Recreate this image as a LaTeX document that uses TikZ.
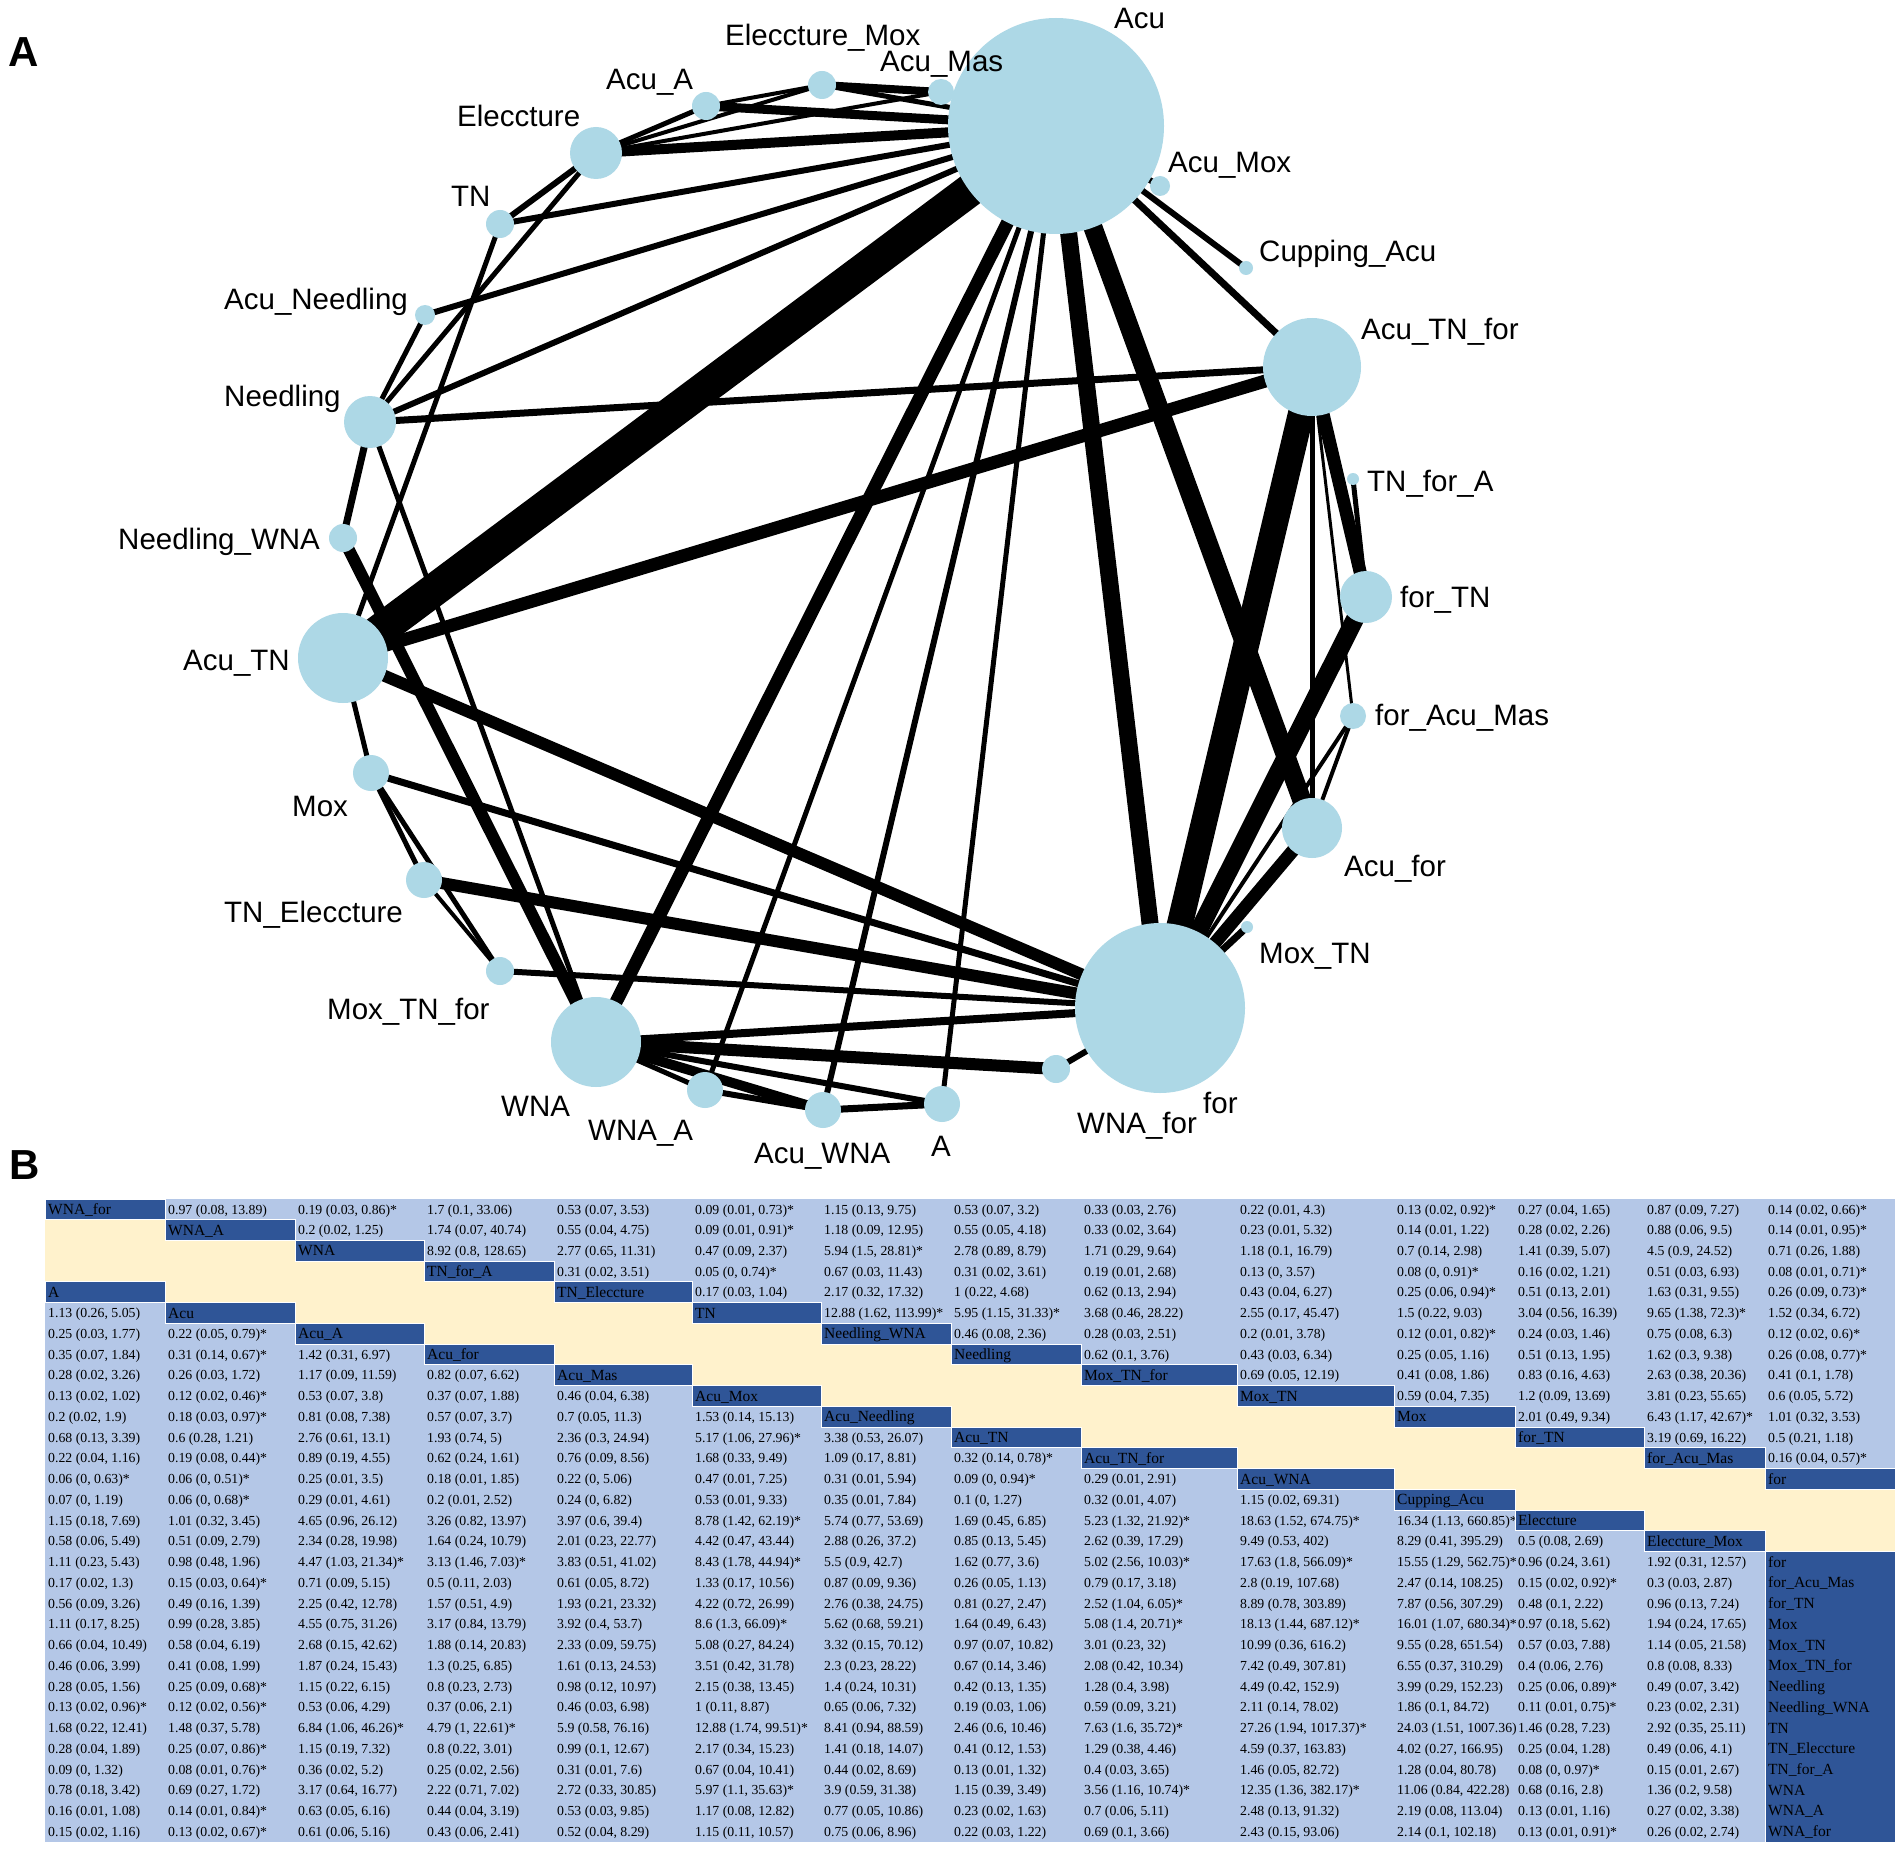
\documentclass[tikz,border=0pt]{standalone}
\usepackage{fontspec}
\setmainfont{Liberation Serif}
\newfontfamily\gsans{Liberation Sans}
\usetikzlibrary{backgrounds}
\definecolor{nodeblue}{HTML}{ADD8E6}
\definecolor{cellblue}{HTML}{B4C7E7}
\definecolor{cellcream}{HTML}{FFF2CC}
\definecolor{celldark}{HTML}{2F5597}
\tikzset{
 gnode/.style={circle, fill=nodeblue, draw=none, inner sep=0pt},
 glabel/.style={anchor=base west, inner sep=0pt, font=\gsans\fontsize{29.5}{30}\selectfont},
 edge/.style={draw=black, line cap=butt},
 val/.style={anchor=base west, inner sep=0pt, font=\fontsize{13.8}{14}\selectfont},
 lab/.style={anchor=base west, inner sep=0pt, text=black, font=\fontsize{15.5}{16}\selectfont},
 panel/.style={anchor=base west, inner sep=0pt, font=\gsans\bfseries\fontsize{42}{42}\selectfont}
}
\newcommand\tcx[1]{\ifcase#1\or45\or165\or295\or424\or554\or692\or821\or951\or1081\or1237\or1394\or1515\or1644\or1765\or1895\fi}
\newcommand\cellbox[2]{\edef\tbxl{\tcx{#1}}\edef\tbxr{\tcx{\numexpr#1+1\relax}}\pgfmathsetmacro\tbyt{1199+(#2-1)*20.74}\pgfmathsetmacro\tbyb{\tbyt+20.74}}
\newcommand\vc[3]{\cellbox{#1}{#2}\begin{scope}\clip (\tbxl,\tbyt) rectangle (\tbxr,\tbyb);\node[val] at (\tbxl+3,\tbyt+15) {#3};\end{scope}}
\newcommand\dc[3]{\cellbox{#1}{#2}\fill[celldark] (\tbxl,\tbyt) rectangle (\tbxr,\tbyb);\draw[white,line width=1pt] (\tbxl,\tbyt) rectangle (\tbxr,\tbyb);\node[lab] at (\tbxl+3,\tbyt+15.5) {#3};}
\newcommand\dcn[3]{\cellbox{#1}{#2}\node[lab] at (\tbxl+3,\tbyt+15.5) {#3};}
\newcommand\cream[3]{\cellbox{#1}{#3}\edef\tbxr{\tcx{\numexpr#2+1\relax}}\fill[cellcream] (\tbxl,\tbyt) rectangle (\tbxr,\tbyb);}
\newcount\tbcol
\def\rvstop{STOP}
\newcommand\rowvals[3]{\def\tbrow{#1}\global\tbcol=#2\relax\rvloop#3|STOP|}
\def\rvloop#1|{\def\rvtmp{#1}\ifx\rvtmp\rvstop\else\vc{\the\tbcol}{\tbrow}{#1}\global\advance\tbcol by1\relax\expandafter\rvloop\fi}
\begin{document}
\begin{tikzpicture}[x=1pt,y=-1pt]
\useasboundingbox (0,0) rectangle (1902,1851);
% ---------- graph nodes ----------
\node[gnode,minimum size=26pt] (AcuMas) at (941,92) {};
\node[gnode,minimum size=216pt] (Acu) at (1056,126) {};
\node[gnode,minimum size=28pt] (EleMox) at (822,85) {};
\node[gnode,minimum size=28pt] (AcuA) at (706,106) {};
\node[gnode,minimum size=52pt] (Ele) at (596,153) {};
\node[gnode,minimum size=28pt] (TN) at (500,224) {};
\node[gnode,minimum size=20pt] (AcuNeed) at (425,315) {};
\node[gnode,minimum size=52pt] (Need) at (370,422) {};
\node[gnode,minimum size=28pt] (NeedWNA) at (343,538) {};
\node[gnode,minimum size=90pt] (AcuTN) at (343,658) {};
\node[gnode,minimum size=36pt] (Mox) at (371,773) {};
\node[gnode,minimum size=36pt] (TNEle) at (424,880) {};
\node[gnode,minimum size=28pt] (MoxTNfor) at (500,971) {};
\node[gnode,minimum size=90pt] (WNA) at (596,1042) {};
\node[gnode,minimum size=36pt] (WNAA) at (705,1090) {};
\node[gnode,minimum size=36pt] (AcuWNA) at (823,1110) {};
\node[gnode,minimum size=36pt] (A) at (942,1104) {};
\node[gnode,minimum size=28pt] (WNAfor) at (1056,1069) {};
\node[gnode,minimum size=170pt] (for) at (1160,1008) {};
\node[gnode,minimum size=12pt] (MoxTN) at (1247,927) {};
\node[gnode,minimum size=60pt] (Acufor) at (1312,828) {};
\node[gnode,minimum size=26pt] (forAcuMas) at (1353,716) {};
\node[gnode,minimum size=52pt] (forTN) at (1366,597) {};
\node[gnode,minimum size=12pt] (TNforA) at (1353,479) {};
\node[gnode,minimum size=98pt] (AcuTNfor) at (1312,367) {};
\node[gnode,minimum size=14pt] (Cupping) at (1246,268) {};
\node[gnode,minimum size=20pt] (AcuMox) at (1160,186) {};
% ---------- edges ----------
\begin{scope}[on background layer]
\fill[white] (0,0) rectangle (1902,1851);
\draw[edge,line width=33pt] (Acu.center) -- (AcuTN.center);
\draw[edge,line width=26pt] (AcuTNfor.center) -- (for.center);
\draw[edge,line width=19pt] (Acu.center) -- (Acufor.center);
\draw[edge,line width=17pt] (Acu.center) -- (for.center);
\draw[edge,line width=18pt] (forTN.center) -- (for.center);
\draw[edge,line width=13pt] (Acu.center) -- (WNA.center);
\draw[edge,line width=13pt] (AcuTN.center) -- (AcuTNfor.center);
\draw[edge,line width=12pt] (AcuTN.center) -- (for.center);
\draw[edge,line width=12pt] (NeedWNA.center) -- (WNA.center);
\draw[edge,line width=12pt] (TNEle.center) -- (for.center);
\draw[edge,line width=13pt] (Acufor.center) -- (for.center);
\draw[edge,line width=13pt] (AcuTNfor.center) -- (forTN.center);
\draw[edge,line width=12pt] (WNA.center) -- (WNAfor.center);
\draw[edge,line width=10pt] (WNA.center) -- (AcuWNA.center);
\draw[edge,line width=8pt] (WNA.center) -- (for.center);
\draw[edge,line width=10pt] (Acu.center) -- (Ele.center);
\draw[edge,line width=9pt] (Acu.center) -- (AcuA.center);
\draw[edge,line width=8pt] (EleMox.center) -- (AcuMas.center);
\draw[edge,line width=5pt] (Acu.center) -- (EleMox.center);
\draw[edge,line width=5pt] (Acu.center) -- (AcuMas.center);
\draw[edge,line width=4pt] (EleMox.center) -- (AcuA.center);
\draw[edge,line width=4pt] (Ele.center) -- (EleMox.center);
\draw[edge,line width=5pt] (Ele.center) -- (AcuA.center);
\draw[edge,line width=4pt] (Ele.center) -- (AcuMas.center);
\draw[edge,line width=6pt] (Ele.center) -- (TN.center);
\draw[edge,line width=5pt] (Ele.center) -- (Need.center);
\draw[edge,line width=6pt] (Acu.center) -- (TN.center);
\draw[edge,line width=6pt] (Acu.center) -- (AcuNeed.center);
\draw[edge,line width=6pt] (Acu.center) -- (Need.center);
\draw[edge,line width=5pt] (TN.center) -- (AcuTN.center);
\draw[edge,line width=5pt] (AcuNeed.center) -- (Need.center);
\draw[edge,line width=7pt] (Need.center) -- (NeedWNA.center);
\draw[edge,line width=7pt] (Need.center) -- (AcuTNfor.center);
\draw[edge,line width=5pt] (Need.center) -- (WNA.center);
\draw[edge,line width=5pt] (AcuTN.center) -- (Mox.center);
\draw[edge,line width=5pt] (Mox.center) -- (TNEle.center);
\draw[edge,line width=5pt] (Mox.center) -- (MoxTNfor.center);
\draw[edge,line width=4pt] (TNEle.center) -- (MoxTNfor.center);
\draw[edge,line width=7pt] (Mox.center) -- (for.center);
\draw[edge,line width=6pt] (MoxTNfor.center) -- (for.center);
\draw[edge,line width=5pt] (WNA.center) -- (WNAA.center);
\draw[edge,line width=6pt] (WNA.center) -- (A.center);
\draw[edge,line width=6pt] (WNAA.center) -- (AcuWNA.center);
\draw[edge,line width=5pt] (WNAA.center) -- (Acu.center);
\draw[edge,line width=6pt] (AcuWNA.center) -- (Acu.center);
\draw[edge,line width=7pt] (AcuWNA.center) -- (A.center);
\draw[edge,line width=5pt] (A.center) -- (Acu.center);
\draw[edge,line width=6pt] (WNAfor.center) -- (for.center);
\draw[edge,line width=7pt] (MoxTN.center) -- (for.center);
\draw[edge,line width=4pt] (forAcuMas.center) -- (for.center);
\draw[edge,line width=4pt] (forAcuMas.center) -- (Acufor.center);
\draw[edge,line width=3pt] (AcuTNfor.center) -- (forAcuMas.center);
\draw[edge,line width=5pt] (AcuTNfor.center) -- (Acufor.center);
\draw[edge,line width=5pt] (TNforA.center) -- (forTN.center);
\draw[edge,line width=7pt] (Acu.center) -- (AcuTNfor.center);
\draw[edge,line width=6pt] (Acu.center) -- (Cupping.center);
\draw[edge,line width=6pt] (Acu.center) -- (AcuMox.center);
\end{scope}
% ---------- graph labels ----------
\node[glabel] (lAcu) at (1114,29) {Acu};
\node[glabel] (lEleMox) at (725,46) {Eleccture\_Mox};
\node[glabel] (lAcuMas) at (880,72) {Acu\_Mas};
\node[glabel] (lAcuA) at (606,90) {Acu\_A};
\node[glabel] (lEle) at (457,127) {Eleccture};
\node[glabel] (lTN) at (451,207) {TN};
\node[glabel] (lAcuNeed) at (224,309) {Acu\_Needling};
\node[glabel] (lNeed) at (224,406) {Needling};
\node[glabel] (lNeedWNA) at (118,549) {Needling\_WNA};
\node[glabel] (lAcuTN) at (183,670) {Acu\_TN};
\node[glabel] (lMox) at (292,816) {Mox};
\node[glabel] (lTNEle) at (224,922) {TN\_Eleccture};
\node[glabel] (lMoxTNfor) at (327,1019) {Mox\_TN\_for};
\node[glabel] (lWNA) at (501,1116) {WNA};
\node[glabel] (lWNAA) at (588,1140) {WNA\_A};
\node[glabel] (lAcuWNA) at (754,1163) {Acu\_WNA};
\node[glabel] (lA) at (931,1156) {A};
\node[glabel] (lWNAfor) at (1077,1133) {WNA\_for};
\node[glabel] (lfor) at (1203,1113) {for};
\node[glabel] (lMoxTN) at (1259,963) {Mox\_TN};
\node[glabel] (lAcufor) at (1344,876) {Acu\_for};
\node[glabel] (lforAcuMas) at (1375,725) {for\_Acu\_Mas};
\node[glabel] (lforTN) at (1400,607) {for\_TN};
\node[glabel] (lTNforA) at (1367,491) {TN\_for\_A};
\node[glabel] (lAcuTNfor) at (1361,340) {Acu\_TN\_for};
\node[glabel] (lCupping) at (1259,262) {Cupping\_Acu};
\node[glabel] (lAcuMox) at (1168,173) {Acu\_Mox};
% ---------- panel letters ----------
\node[panel] (pA) at (8,67) {A};
\node[panel] (pB) at (9,1179) {B};
% ---------- table ----------
\fill[cellblue] (45,1199) rectangle (1895,1842);
\cream{1}{1}{2}\cream{1}{2}{3}\cream{1}{3}{4}\cream{2}{4}{5}\cream{3}{5}{6}\cream{4}{6}{7}\cream{5}{7}{8}\cream{6}{8}{9}\cream{7}{9}{10}\cream{8}{10}{11}\cream{9}{11}{12}\cream{10}{12}{13}\cream{11}{13}{14}\cream{12}{14}{15}\cream{13}{14}{16}\cream{14}{14}{17}
\rowvals{1}{2}{0.97 (0.08, 13.89)|0.19 (0.03, 0.86)*|1.7 (0.1, 33.06)|0.53 (0.07, 3.53)|0.09 (0.01, 0.73)*|1.15 (0.13, 9.75)|0.53 (0.07, 3.2)|0.33 (0.03, 2.76)|0.22 (0.01, 4.3)|0.13 (0.02, 0.92)*|0.27 (0.04, 1.65)|0.87 (0.09, 7.27)|0.14 (0.02, 0.66)*}
\rowvals{2}{3}{0.2 (0.02, 1.25)|1.74 (0.07, 40.74)|0.55 (0.04, 4.75)|0.09 (0.01, 0.91)*|1.18 (0.09, 12.95)|0.55 (0.05, 4.18)|0.33 (0.02, 3.64)|0.23 (0.01, 5.32)|0.14 (0.01, 1.22)|0.28 (0.02, 2.26)|0.88 (0.06, 9.5)|0.14 (0.01, 0.95)*}
\rowvals{3}{4}{8.92 (0.8, 128.65)|2.77 (0.65, 11.31)|0.47 (0.09, 2.37)|5.94 (1.5, 28.81)*|2.78 (0.89, 8.79)|1.71 (0.29, 9.64)|1.18 (0.1, 16.79)|0.7 (0.14, 2.98)|1.41 (0.39, 5.07)|4.5 (0.9, 24.52)|0.71 (0.26, 1.88)}
\rowvals{4}{5}{0.31 (0.02, 3.51)|0.05 (0, 0.74)*|0.67 (0.03, 11.43)|0.31 (0.02, 3.61)|0.19 (0.01, 2.68)|0.13 (0, 3.57)|0.08 (0, 0.91)*|0.16 (0.02, 1.21)|0.51 (0.03, 6.93)|0.08 (0.01, 0.71)*}
\rowvals{5}{6}{0.17 (0.03, 1.04)|2.17 (0.32, 17.32)|1 (0.22, 4.68)|0.62 (0.13, 2.94)|0.43 (0.04, 6.27)|0.25 (0.06, 0.94)*|0.51 (0.13, 2.01)|1.63 (0.31, 9.55)|0.26 (0.09, 0.73)*}
\rowvals{6}{1}{1.13 (0.26, 5.05)}
\rowvals{6}{7}{12.88 (1.62, 113.99)*|5.95 (1.15, 31.33)*|3.68 (0.46, 28.22)|2.55 (0.17, 45.47)|1.5 (0.22, 9.03)|3.04 (0.56, 16.39)|9.65 (1.38, 72.3)*|1.52 (0.34, 6.72)}
\rowvals{7}{1}{0.25 (0.03, 1.77)|0.22 (0.05, 0.79)*}
\rowvals{7}{8}{0.46 (0.08, 2.36)|0.28 (0.03, 2.51)|0.2 (0.01, 3.78)|0.12 (0.01, 0.82)*|0.24 (0.03, 1.46)|0.75 (0.08, 6.3)|0.12 (0.02, 0.6)*}
\rowvals{8}{1}{0.35 (0.07, 1.84)|0.31 (0.14, 0.67)*|1.42 (0.31, 6.97)}
\rowvals{8}{9}{0.62 (0.1, 3.76)|0.43 (0.03, 6.34)|0.25 (0.05, 1.16)|0.51 (0.13, 1.95)|1.62 (0.3, 9.38)|0.26 (0.08, 0.77)*}
\rowvals{9}{1}{0.28 (0.02, 3.26)|0.26 (0.03, 1.72)|1.17 (0.09, 11.59)|0.82 (0.07, 6.62)}
\rowvals{9}{10}{0.69 (0.05, 12.19)|0.41 (0.08, 1.86)|0.83 (0.16, 4.63)|2.63 (0.38, 20.36)|0.41 (0.1, 1.78)}
\rowvals{10}{1}{0.13 (0.02, 1.02)|0.12 (0.02, 0.46)*|0.53 (0.07, 3.8)|0.37 (0.07, 1.88)|0.46 (0.04, 6.38)}
\rowvals{10}{11}{0.59 (0.04, 7.35)|1.2 (0.09, 13.69)|3.81 (0.23, 55.65)|0.6 (0.05, 5.72)}
\rowvals{11}{1}{0.2 (0.02, 1.9)|0.18 (0.03, 0.97)*|0.81 (0.08, 7.38)|0.57 (0.07, 3.7)|0.7 (0.05, 11.3)|1.53 (0.14, 15.13)}
\rowvals{11}{12}{2.01 (0.49, 9.34)|6.43 (1.17, 42.67)*|1.01 (0.32, 3.53)}
\rowvals{12}{1}{0.68 (0.13, 3.39)|0.6 (0.28, 1.21)|2.76 (0.61, 13.1)|1.93 (0.74, 5)|2.36 (0.3, 24.94)|5.17 (1.06, 27.96)*|3.38 (0.53, 26.07)}
\rowvals{12}{13}{3.19 (0.69, 16.22)|0.5 (0.21, 1.18)}
\rowvals{13}{1}{0.22 (0.04, 1.16)|0.19 (0.08, 0.44)*|0.89 (0.19, 4.55)|0.62 (0.24, 1.61)|0.76 (0.09, 8.56)|1.68 (0.33, 9.49)|1.09 (0.17, 8.81)|0.32 (0.14, 0.78)*}
\rowvals{13}{14}{0.16 (0.04, 0.57)*}
\rowvals{14}{1}{0.06 (0, 0.63)*|0.06 (0, 0.51)*|0.25 (0.01, 3.5)|0.18 (0.01, 1.85)|0.22 (0, 5.06)|0.47 (0.01, 7.25)|0.31 (0.01, 5.94)|0.09 (0, 0.94)*|0.29 (0.01, 2.91)}
\rowvals{15}{1}{0.07 (0, 1.19)|0.06 (0, 0.68)*|0.29 (0.01, 4.61)|0.2 (0.01, 2.52)|0.24 (0, 6.82)|0.53 (0.01, 9.33)|0.35 (0.01, 7.84)|0.1 (0, 1.27)|0.32 (0.01, 4.07)|1.15 (0.02, 69.31)}
\rowvals{16}{1}{1.15 (0.18, 7.69)|1.01 (0.32, 3.45)|4.65 (0.96, 26.12)|3.26 (0.82, 13.97)|3.97 (0.6, 39.4)|8.78 (1.42, 62.19)*|5.74 (0.77, 53.69)|1.69 (0.45, 6.85)|5.23 (1.32, 21.92)*|18.63 (1.52, 674.75)*|16.34 (1.13, 660.85)*}
\rowvals{17}{1}{0.58 (0.06, 5.49)|0.51 (0.09, 2.79)|2.34 (0.28, 19.98)|1.64 (0.24, 10.79)|2.01 (0.23, 22.77)|4.42 (0.47, 43.44)|2.88 (0.26, 37.2)|0.85 (0.13, 5.45)|2.62 (0.39, 17.29)|9.49 (0.53, 402)|8.29 (0.41, 395.29)|0.5 (0.08, 2.69)}
\rowvals{18}{1}{1.11 (0.23, 5.43)|0.98 (0.48, 1.96)|4.47 (1.03, 21.34)*|3.13 (1.46, 7.03)*|3.83 (0.51, 41.02)|8.43 (1.78, 44.94)*|5.5 (0.9, 42.7)|1.62 (0.77, 3.6)|5.02 (2.56, 10.03)*|17.63 (1.8, 566.09)*|15.55 (1.29, 562.75)*|0.96 (0.24, 3.61)|1.92 (0.31, 12.57)}
\rowvals{19}{1}{0.17 (0.02, 1.3)|0.15 (0.03, 0.64)*|0.71 (0.09, 5.15)|0.5 (0.11, 2.03)|0.61 (0.05, 8.72)|1.33 (0.17, 10.56)|0.87 (0.09, 9.36)|0.26 (0.05, 1.13)|0.79 (0.17, 3.18)|2.8 (0.19, 107.68)|2.47 (0.14, 108.25)|0.15 (0.02, 0.92)*|0.3 (0.03, 2.87)}
\rowvals{20}{1}{0.56 (0.09, 3.26)|0.49 (0.16, 1.39)|2.25 (0.42, 12.78)|1.57 (0.51, 4.9)|1.93 (0.21, 23.32)|4.22 (0.72, 26.99)|2.76 (0.38, 24.75)|0.81 (0.27, 2.47)|2.52 (1.04, 6.05)*|8.89 (0.78, 303.89)|7.87 (0.56, 307.29)|0.48 (0.1, 2.22)|0.96 (0.13, 7.24)}
\rowvals{21}{1}{1.11 (0.17, 8.25)|0.99 (0.28, 3.85)|4.55 (0.75, 31.26)|3.17 (0.84, 13.79)|3.92 (0.4, 53.7)|8.6 (1.3, 66.09)*|5.62 (0.68, 59.21)|1.64 (0.49, 6.43)|5.08 (1.4, 20.71)*|18.13 (1.44, 687.12)*|16.01 (1.07, 680.34)*|0.97 (0.18, 5.62)|1.94 (0.24, 17.65)}
\rowvals{22}{1}{0.66 (0.04, 10.49)|0.58 (0.04, 6.19)|2.68 (0.15, 42.62)|1.88 (0.14, 20.83)|2.33 (0.09, 59.75)|5.08 (0.27, 84.24)|3.32 (0.15, 70.12)|0.97 (0.07, 10.82)|3.01 (0.23, 32)|10.99 (0.36, 616.2)|9.55 (0.28, 651.54)|0.57 (0.03, 7.88)|1.14 (0.05, 21.58)}
\rowvals{23}{1}{0.46 (0.06, 3.99)|0.41 (0.08, 1.99)|1.87 (0.24, 15.43)|1.3 (0.25, 6.85)|1.61 (0.13, 24.53)|3.51 (0.42, 31.78)|2.3 (0.23, 28.22)|0.67 (0.14, 3.46)|2.08 (0.42, 10.34)|7.42 (0.49, 307.81)|6.55 (0.37, 310.29)|0.4 (0.06, 2.76)|0.8 (0.08, 8.33)}
\rowvals{24}{1}{0.28 (0.05, 1.56)|0.25 (0.09, 0.68)*|1.15 (0.22, 6.15)|0.8 (0.23, 2.73)|0.98 (0.12, 10.97)|2.15 (0.38, 13.45)|1.4 (0.24, 10.31)|0.42 (0.13, 1.35)|1.28 (0.4, 3.98)|4.49 (0.42, 152.9)|3.99 (0.29, 152.23)|0.25 (0.06, 0.89)*|0.49 (0.07, 3.42)}
\rowvals{25}{1}{0.13 (0.02, 0.96)*|0.12 (0.02, 0.56)*|0.53 (0.06, 4.29)|0.37 (0.06, 2.1)|0.46 (0.03, 6.98)|1 (0.11, 8.87)|0.65 (0.06, 7.32)|0.19 (0.03, 1.06)|0.59 (0.09, 3.21)|2.11 (0.14, 78.02)|1.86 (0.1, 84.72)|0.11 (0.01, 0.75)*|0.23 (0.02, 2.31)}
\rowvals{26}{1}{1.68 (0.22, 12.41)|1.48 (0.37, 5.78)|6.84 (1.06, 46.26)*|4.79 (1, 22.61)*|5.9 (0.58, 76.16)|12.88 (1.74, 99.51)*|8.41 (0.94, 88.59)|2.46 (0.6, 10.46)|7.63 (1.6, 35.72)*|27.26 (1.94, 1017.37)*|24.03 (1.51, 1007.36)*|1.46 (0.28, 7.23)|2.92 (0.35, 25.11)}
\rowvals{27}{1}{0.28 (0.04, 1.89)|0.25 (0.07, 0.86)*|1.15 (0.19, 7.32)|0.8 (0.22, 3.01)|0.99 (0.1, 12.67)|2.17 (0.34, 15.23)|1.41 (0.18, 14.07)|0.41 (0.12, 1.53)|1.29 (0.38, 4.46)|4.59 (0.37, 163.83)|4.02 (0.27, 166.95)|0.25 (0.04, 1.28)|0.49 (0.06, 4.1)}
\rowvals{28}{1}{0.09 (0, 1.32)|0.08 (0.01, 0.76)*|0.36 (0.02, 5.2)|0.25 (0.02, 2.56)|0.31 (0.01, 7.6)|0.67 (0.04, 10.41)|0.44 (0.02, 8.69)|0.13 (0.01, 1.32)|0.4 (0.03, 3.65)|1.46 (0.05, 82.72)|1.28 (0.04, 80.78)|0.08 (0, 0.97)*|0.15 (0.01, 2.67)}
\rowvals{29}{1}{0.78 (0.18, 3.42)|0.69 (0.27, 1.72)|3.17 (0.64, 16.77)|2.22 (0.71, 7.02)|2.72 (0.33, 30.85)|5.97 (1.1, 35.63)*|3.9 (0.59, 31.38)|1.15 (0.39, 3.49)|3.56 (1.16, 10.74)*|12.35 (1.36, 382.17)*|11.06 (0.84, 422.28)|0.68 (0.16, 2.8)|1.36 (0.2, 9.58)}
\rowvals{30}{1}{0.16 (0.01, 1.08)|0.14 (0.01, 0.84)*|0.63 (0.05, 6.16)|0.44 (0.04, 3.19)|0.53 (0.03, 9.85)|1.17 (0.08, 12.82)|0.77 (0.05, 10.86)|0.23 (0.02, 1.63)|0.7 (0.06, 5.11)|2.48 (0.13, 91.32)|2.19 (0.08, 113.04)|0.13 (0.01, 1.16)|0.27 (0.02, 3.38)}
\rowvals{31}{1}{0.15 (0.02, 1.16)|0.13 (0.02, 0.67)*|0.61 (0.06, 5.16)|0.43 (0.06, 2.41)|0.52 (0.04, 8.29)|1.15 (0.11, 10.57)|0.75 (0.06, 8.96)|0.22 (0.03, 1.22)|0.69 (0.1, 3.66)|2.43 (0.15, 93.06)|2.14 (0.1, 102.18)|0.13 (0.01, 0.91)*|0.26 (0.02, 2.74)}
% dark label cells
\dc{1}{1}{WNA\_for}\dc{2}{2}{WNA\_A}\dc{3}{3}{WNA}\dc{4}{4}{TN\_for\_A}
\dc{1}{5}{A}\dc{5}{5}{TN\_Eleccture}
\dc{2}{6}{Acu}\dc{6}{6}{TN}
\dc{3}{7}{Acu\_A}\dc{7}{7}{Needling\_WNA}
\dc{4}{8}{Acu\_for}\dc{8}{8}{Needling}
\dc{5}{9}{Acu\_Mas}\dc{9}{9}{Mox\_TN\_for}
\dc{6}{10}{Acu\_Mox}\dc{10}{10}{Mox\_TN}
\dc{7}{11}{Acu\_Needling}\dc{11}{11}{Mox}
\dc{8}{12}{Acu\_TN}\dc{12}{12}{for\_TN}
\dc{9}{13}{Acu\_TN\_for}\dc{13}{13}{for\_Acu\_Mas}
\dc{10}{14}{Acu\_WNA}\dc{14}{14}{for}
\dc{11}{15}{Cupping\_Acu}
\dc{12}{16}{Eleccture}
\dc{13}{17}{Eleccture\_Mox}
% continuous label block in the last column
\fill[celldark] (1765,1551.8) rectangle (1895,1842);
\draw[white,line width=1pt] (1765,1551.8) rectangle (1895,1842);
\dcn{14}{18}{for}\dcn{14}{19}{for\_Acu\_Mas}\dcn{14}{20}{for\_TN}\dcn{14}{21}{Mox}\dcn{14}{22}{Mox\_TN}\dcn{14}{23}{Mox\_TN\_for}\dcn{14}{24}{Needling}\dcn{14}{25}{Needling\_WNA}\dcn{14}{26}{TN}\dcn{14}{27}{TN\_Eleccture}\dcn{14}{28}{TN\_for\_A}\dcn{14}{29}{WNA}\dcn{14}{30}{WNA\_A}\dcn{14}{31}{WNA\_for}
\end{tikzpicture}
\end{document}
